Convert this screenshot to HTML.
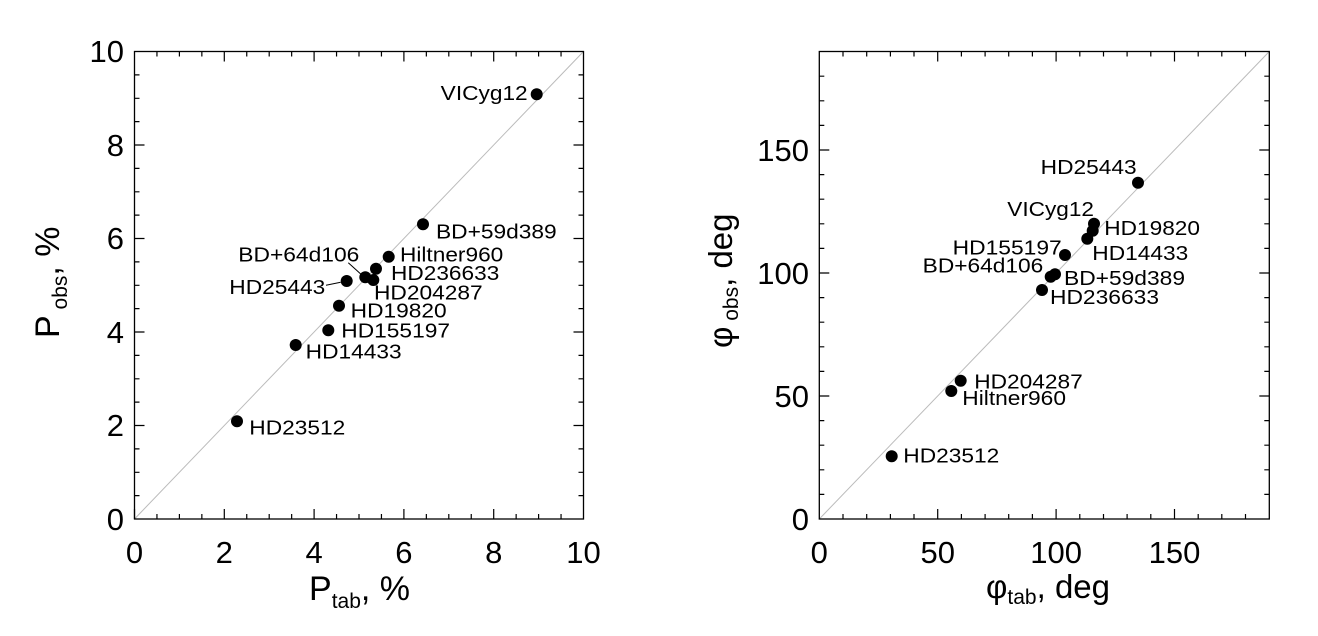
<!DOCTYPE html>
<html><head><meta charset="utf-8"><style>
html,body{margin:0;padding:0;background:#fff;}
svg{display:block;}
text{font-family:"Liberation Sans",sans-serif;fill:#000;}
.lb{font-size:20px;}
.tk{font-size:31px;}
</style></head><body>
<svg width="1318" height="636" viewBox="0 0 1318 636" xmlns="http://www.w3.org/2000/svg">
<!-- LEFT PLOT -->
<line x1="134.5" y1="519" x2="583.5" y2="51.5" stroke="#bbb" stroke-width="1"/>
<rect x="134.5" y="51.5" width="449" height="467.5" fill="none" stroke="#000" stroke-width="1.3"/>
<path stroke="#000" stroke-width="1.2" fill="none" d="
M134.5 519v-10M156.95 519v-5M179.4 519v-5M201.85 519v-5M224.3 519v-10M246.75 519v-5M269.2 519v-5M291.65 519v-5M314.1 519v-10M336.55 519v-5M359 519v-5M381.45 519v-5M403.9 519v-10M426.35 519v-5M448.8 519v-5M471.25 519v-5M493.7 519v-10M516.15 519v-5M538.6 519v-5M561.05 519v-5
M156.95 51.5v5M179.4 51.5v5M201.85 51.5v5M224.3 51.5v10M246.75 51.5v5M269.2 51.5v5M291.65 51.5v5M314.1 51.5v10M336.55 51.5v5M359 51.5v5M381.45 51.5v5M403.9 51.5v10M426.35 51.5v5M448.8 51.5v5M471.25 51.5v5M493.7 51.5v10M516.15 51.5v5M538.6 51.5v5M561.05 51.5v5
M134.5 495.6h5M134.5 472.3h5M134.5 448.9h5M134.5 425.5h10M134.5 402.1h5M134.5 378.8h5M134.5 355.4h5M134.5 332h10M134.5 308.6h5M134.5 285.3h5M134.5 261.9h5M134.5 238.5h10M134.5 215.1h5M134.5 191.8h5M134.5 168.4h5M134.5 145h10M134.5 121.6h5M134.5 98.3h5M134.5 74.9h5
M583.5 495.6h-5M583.5 472.3h-5M583.5 448.9h-5M583.5 425.5h-10M583.5 402.1h-5M583.5 378.8h-5M583.5 355.4h-5M583.5 332h-10M583.5 308.6h-5M583.5 285.3h-5M583.5 261.9h-5M583.5 238.5h-10M583.5 215.1h-5M583.5 191.8h-5M583.5 168.4h-5M583.5 145h-10M583.5 121.6h-5M583.5 98.3h-5M583.5 74.9h-5"/>
<g class="tk" text-anchor="end">
<text x="124" y="530">0</text><text x="124" y="436">2</text><text x="124" y="343">4</text><text x="124" y="249">6</text><text x="124" y="156">8</text><text x="124" y="62">10</text>
</g>
<g class="tk" text-anchor="middle">
<text x="134.5" y="563">0</text><text x="224.3" y="563">2</text><text x="314.1" y="563">4</text><text x="403.9" y="563">6</text><text x="493.7" y="563">8</text><text x="583.5" y="563">10</text>
</g>
<text x="309" y="600" style="font-size:34px">P<tspan style="font-size:21px" dy="8">tab</tspan><tspan dy="-8">, %</tspan></text>
<text transform="translate(59,338) rotate(-90)" style="font-size:34px">P<tspan style="font-size:21px" dy="8"> obs</tspan><tspan dy="-8">, %</tspan></text>
<g fill="#000">
<circle cx="536.7" cy="94.3" r="6"/><circle cx="423" cy="224.3" r="6"/><circle cx="388.7" cy="256.7" r="6"/><circle cx="376" cy="268.7" r="6"/><circle cx="365.3" cy="277.3" r="6"/><circle cx="373.3" cy="280" r="6"/><circle cx="346.7" cy="281" r="6"/><circle cx="339" cy="305.7" r="6"/><circle cx="328.3" cy="330.3" r="6"/><circle cx="295.7" cy="345" r="6"/><circle cx="237" cy="421.3" r="6"/>
</g>
<path stroke="#000" stroke-width="1" d="M348.3 262.7L361 274.3M326 285.3L340.7 282.3"/>
<g class="lb" lengthAdjust="spacingAndGlyphs">
<text x="440.7" y="100" textLength="87" lengthAdjust="spacingAndGlyphs">VICyg12</text>
<text x="436" y="238.3" textLength="120.7" lengthAdjust="spacingAndGlyphs">BD+59d389</text>
<text x="238.3" y="261.7" textLength="121" lengthAdjust="spacingAndGlyphs">BD+64d106</text>
<text x="400" y="261.7" textLength="103.3" lengthAdjust="spacingAndGlyphs">Hiltner960</text>
<text x="391" y="280" textLength="108.3" lengthAdjust="spacingAndGlyphs">HD236633</text>
<text x="374" y="299.3" textLength="108.7" lengthAdjust="spacingAndGlyphs">HD204287</text>
<text x="229.3" y="294" textLength="96" lengthAdjust="spacingAndGlyphs">HD25443</text>
<text x="350.7" y="317.7" textLength="96" lengthAdjust="spacingAndGlyphs">HD19820</text>
<text x="341.3" y="337.7" textLength="108.7" lengthAdjust="spacingAndGlyphs">HD155197</text>
<text x="305.7" y="358.7" textLength="96" lengthAdjust="spacingAndGlyphs">HD14433</text>
<text x="249.3" y="434.3" textLength="96" lengthAdjust="spacingAndGlyphs">HD23512</text>
</g>

<!-- RIGHT PLOT -->
<line x1="819.3" y1="519" x2="1269.3" y2="51.5" stroke="#bbb" stroke-width="1"/>
<rect x="819.3" y="51.5" width="450" height="467.5" fill="none" stroke="#000" stroke-width="1.3"/>
<path stroke="#000" stroke-width="1.2" fill="none" d="
M843 519v-5M866.7 519v-5M890.4 519v-5M914 519v-5M937.7 519v-10M961.4 519v-5M985.1 519v-5M1008.7 519v-5M1032.4 519v-5M1056.1 519v-10M1079.8 519v-5M1103.5 519v-5M1127.1 519v-5M1150.8 519v-5M1174.5 519v-10M1198.2 519v-5M1221.8 519v-5M1245.5 519v-5
M843 51.5v5M866.7 51.5v5M890.4 51.5v5M914 51.5v5M937.7 51.5v10M961.4 51.5v5M985.1 51.5v5M1008.7 51.5v5M1032.4 51.5v5M1056.1 51.5v10M1079.8 51.5v5M1103.5 51.5v5M1127.1 51.5v5M1150.8 51.5v5M1174.5 51.5v10M1198.2 51.5v5M1221.8 51.5v5M1245.5 51.5v5
M819.3 494.4h5M819.3 469.8h5M819.3 445.2h5M819.3 420.6h5M819.3 396h10M819.3 371.4h5M819.3 346.8h5M819.3 322.2h5M819.3 297.6h5M819.3 273h10M819.3 248.4h5M819.3 223.8h5M819.3 199.2h5M819.3 174.6h5M819.3 150h10M819.3 125.4h5M819.3 100.8h5M819.3 76.2h5
M1269.3 494.4h-5M1269.3 469.8h-5M1269.3 445.2h-5M1269.3 420.6h-5M1269.3 396h-10M1269.3 371.4h-5M1269.3 346.8h-5M1269.3 322.2h-5M1269.3 297.6h-5M1269.3 273h-10M1269.3 248.4h-5M1269.3 223.8h-5M1269.3 199.2h-5M1269.3 174.6h-5M1269.3 150h-10M1269.3 125.4h-5M1269.3 100.8h-5M1269.3 76.2h-5"/>
<g class="tk" text-anchor="end">
<text x="809" y="530">0</text><text x="809" y="407">50</text><text x="809" y="284">100</text><text x="809" y="161">150</text>
</g>
<g class="tk" text-anchor="middle">
<text x="819.3" y="563">0</text><text x="937.7" y="563">50</text><text x="1056.1" y="563">100</text><text x="1174.5" y="563">150</text>
</g>
<text x="986" y="598" style="font-size:33px">φ<tspan style="font-size:21px" dy="6">tab</tspan><tspan dy="-6">, deg</tspan></text>
<text transform="translate(732,348) rotate(-90)" style="font-size:33px">φ<tspan style="font-size:21px" dy="6"> obs</tspan><tspan dy="-6">, deg</tspan></text>
<g fill="#000">
<circle cx="1138" cy="182.7" r="6"/><circle cx="1094" cy="223.7" r="6"/><circle cx="1092.7" cy="230.7" r="6"/><circle cx="1087.3" cy="238.7" r="6"/><circle cx="1065" cy="255" r="6"/><circle cx="1055" cy="274.3" r="6"/><circle cx="1050.7" cy="276.7" r="6"/><circle cx="1042" cy="290" r="6"/><circle cx="960.7" cy="380.7" r="6"/><circle cx="951.3" cy="391" r="6"/><circle cx="891.7" cy="456.3" r="6"/>
</g>
<g class="lb">
<text x="1040.7" y="174" textLength="96" lengthAdjust="spacingAndGlyphs">HD25443</text>
<text x="1007.3" y="216" textLength="86.7" lengthAdjust="spacingAndGlyphs">VICyg12</text>
<text x="1104.3" y="235" textLength="95.7" lengthAdjust="spacingAndGlyphs">HD19820</text>
<text x="952.7" y="254.3" textLength="109" lengthAdjust="spacingAndGlyphs">HD155197</text>
<text x="1092.3" y="260" textLength="96" lengthAdjust="spacingAndGlyphs">HD14433</text>
<text x="922.7" y="272.3" textLength="120.6" lengthAdjust="spacingAndGlyphs">BD+64d106</text>
<text x="1064" y="285" textLength="121" lengthAdjust="spacingAndGlyphs">BD+59d389</text>
<text x="1050" y="304" textLength="109" lengthAdjust="spacingAndGlyphs">HD236633</text>
<text x="974.3" y="388.3" textLength="108.4" lengthAdjust="spacingAndGlyphs">HD204287</text>
<text x="962.3" y="405" textLength="103.7" lengthAdjust="spacingAndGlyphs">Hiltner960</text>
<text x="903.3" y="462.7" textLength="96" lengthAdjust="spacingAndGlyphs">HD23512</text>
</g>
</svg>
</body></html>
